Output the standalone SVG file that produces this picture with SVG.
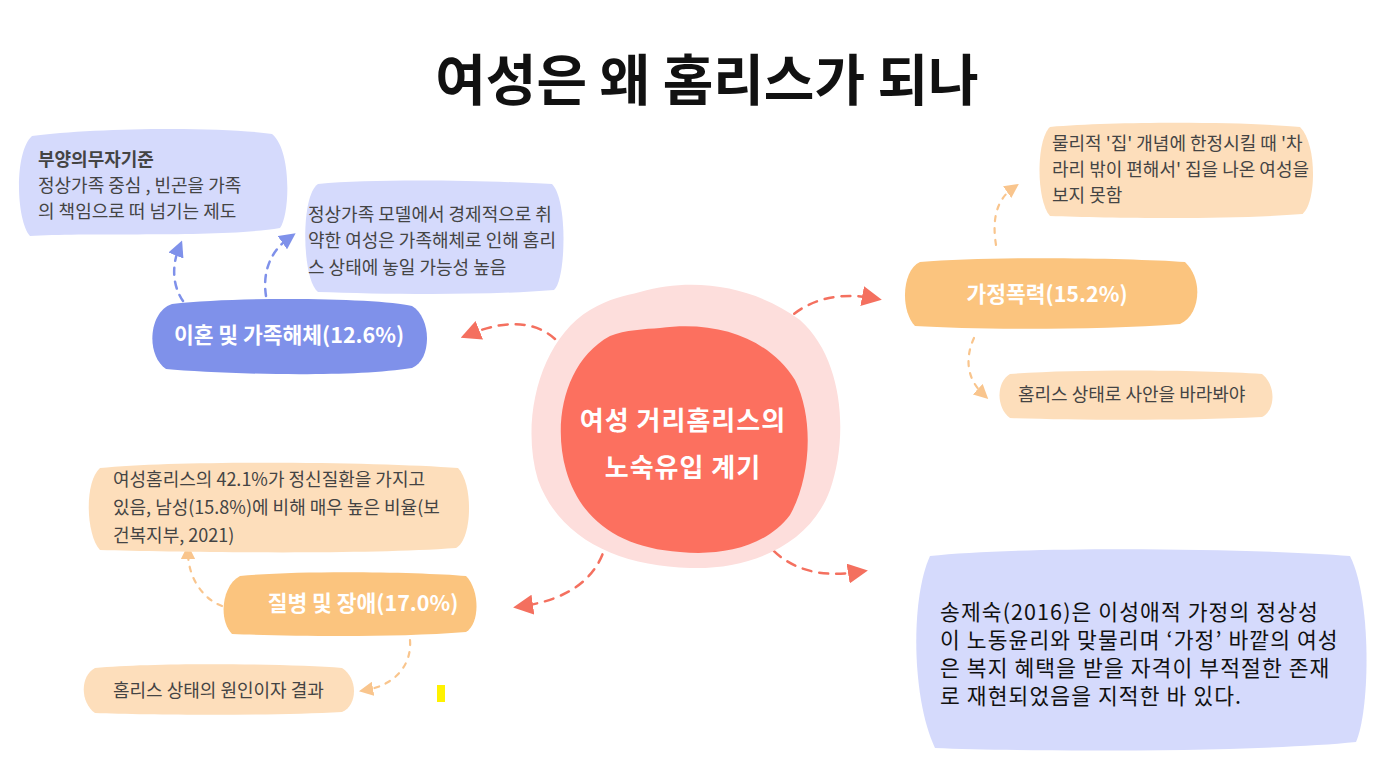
<svg xmlns="http://www.w3.org/2000/svg" width="1388" height="765" viewBox="0 0 1388 765">
<defs>
<style>
.t{font-family:"Noto Sans CJK KR","Noto Sans",sans-serif}
.title{font-size:55px;font-weight:700;fill:#111}
.body{font-size:18px;fill:#444}
.pill{font-size:21.5px;font-weight:700;fill:#fff}
.song{font-size:21.5px;letter-spacing:1.1px;fill:#111}
.lav{fill:#D5DAFC}
.peach{fill:#FDDEBB}
.or{fill:#FBC47E}
.blue{fill:#7F91EA}
.dr{fill:none;stroke:#F4705F;stroke-width:2.5;stroke-dasharray:9 8;stroke-linecap:round}
.db{fill:none;stroke:#7F91EA;stroke-width:2.5;stroke-dasharray:7 7;stroke-linecap:round}
.do{fill:none;stroke:#F9C58D;stroke-width:2.2;stroke-dasharray:5 7;stroke-linecap:round}
</style>
<marker id="ar" viewBox="0 0 10 10" refX="5" refY="5" markerWidth="8" markerHeight="8" orient="auto" markerUnits="strokeWidth"><path d="M0,0 L10,5 L0,10 Z" fill="#F4705F"/></marker>
<marker id="ab" viewBox="0 0 10 10" refX="5" refY="5" markerWidth="6.5" markerHeight="6.5" orient="auto" markerUnits="strokeWidth"><path d="M0,0 L10,5 L0,10 Z" fill="#7F91EA"/></marker>
<marker id="ao" viewBox="0 0 10 10" refX="5" refY="5" markerWidth="6.5" markerHeight="6.5" orient="auto" markerUnits="strokeWidth"><path d="M0,0 L10,5 L0,10 Z" fill="#F9C58D"/></marker>
</defs>
<rect width="1388" height="765" fill="#fff"/>
<text class="t title" x="707" y="100" text-anchor="middle">여성은 왜 홈리스가 되나</text>

<g id="connectors">
<path class="dr" d="M566 352 C545 320 510 318 470 334" marker-end="url(#ar)"/>
<path class="dr" d="M773 340 C790 305 830 290 872 298" marker-end="url(#ar)"/>
<path class="dr" d="M763 538 C785 570 820 578 858 572" marker-end="url(#ar)"/>
<path class="dr" d="M607 538 C600 580 565 600 523 606" marker-end="url(#ar)"/>
<path class="db" d="M183 301 C172 285 172 265 179 248" marker-end="url(#ab)"/>
<path class="db" d="M266 296 C262 270 272 250 289 238" marker-end="url(#ab)"/>
<path class="do" d="M996 245 C992 220 996 200 1013 188" marker-end="url(#ao)"/>
<path class="do" d="M974 338 C964 360 968 380 983 394" marker-end="url(#ao)"/>
<path class="do" d="M222 606 C205 600 188 580 188 552" marker-end="url(#ao)"/>
<path class="do" d="M410 640 C412 665 395 685 366 690" marker-end="url(#ao)"/>
</g>

<g id="node-support">
<path class="lav" d="M32 136 C90 128 220 126 272 134 C292 150 290 215 280 228 C220 238 90 232 30 236 C16 220 14 152 32 136 Z"/>
<text class="t body" x="38" y="166" font-weight="700" fill="#333">부양의무자기준</text>
<text class="t body" x="38" y="192">정상가족 중심 , 빈곤을 가족</text>
<text class="t body" x="38" y="218">의 책임으로 떠 넘기는 제도</text>
</g>

<g id="node-model">
<path class="lav" d="M318 184 C380 178 500 181 552 184 C568 200 566 280 554 290 C480 296 380 294 318 292 C302 280 300 196 318 184 Z"/>
<text class="t body" x="308" y="221">정상가족 모델에서 경제적으로 취</text>
<text class="t body" x="308" y="247">약한 여성은 가족해체로 인해 홈리</text>
<text class="t body" x="308" y="274">스 상태에 놓일 가능성 높음</text>
</g>

<g id="node-divorce">
<path class="blue" d="M172 304 C240 296 380 298 412 306 C432 318 432 360 412 368 C350 378 220 374 166 369 C146 356 148 312 172 304 Z"/>
<text class="t pill" x="289" y="343" text-anchor="middle">이혼 및 가족해체(12.6%)</text>
</g>

<g id="node-center">
<path fill="#FDDEDC" d="M640 292 C700 275 760 290 800 320 C845 360 848 440 830 490 C810 545 750 570 690 568 C620 566 560 540 538 480 C520 420 540 340 590 310 C610 298 625 296 640 292 Z"/>
<path fill="#FC705F" d="M660 328 C720 320 770 340 795 380 C815 420 810 480 790 515 C765 548 720 556 680 552 C620 548 580 520 566 470 C552 420 566 360 610 336 C625 330 645 329 660 328 Z"/>
<text class="t" x="683" y="430" text-anchor="middle" font-size="26" letter-spacing="1" font-weight="700" fill="#fff">여성 거리홈리스의</text>
<text class="t" x="683" y="477" text-anchor="middle" font-size="26" letter-spacing="1" font-weight="700" fill="#fff">노숙유입 계기</text>
</g>

<g id="node-violence">
<path class="or" d="M920 262 C990 256 1130 258 1185 262 C1204 280 1200 315 1180 324 C1100 330 980 330 915 326 C900 310 902 270 920 262 Z"/>
<text class="t pill" x="1047" y="302" text-anchor="middle">가정폭력(15.2%)</text>
</g>

<g id="node-house">
<path class="peach" d="M1050 127 C1120 121 1250 122 1300 127 C1318 145 1316 205 1302 214 C1230 220 1110 218 1050 216 C1036 200 1036 140 1050 127 Z"/>
<text class="t body" x="1052" y="150">물리적 '집' 개념에 한정시킬 때 '차</text>
<text class="t body" x="1052" y="176">라리 밖이 편해서' 집을 나온 여성을</text>
<text class="t body" x="1052" y="202">보지 못함</text>
</g>

<g id="node-view">
<path class="peach" d="M1010 374 C1080 369 1200 370 1262 374 C1276 385 1276 410 1262 417 C1180 421 1070 420 1010 418 C996 408 996 382 1010 374 Z"/>
<text class="t body" x="1018" y="401">홈리스 상태로 사안을 바라봐야</text>
</g>

<g id="node-mental">
<path class="peach" d="M100 468 C180 460 380 462 458 468 C474 485 472 540 456 548 C360 555 180 552 100 550 C86 535 84 482 100 468 Z"/>
<text class="t body" x="113" y="486">여성홈리스의 42.1%가 정신질환을 가지고</text>
<text class="t body" x="113" y="514">있음, 남성(15.8%)에 비해 매우 높은 비율(보</text>
<text class="t body" x="113" y="542">건복지부, 2021)</text>
</g>

<g id="node-illness">
<path class="or" d="M240 576 C300 570 420 572 466 576 C480 590 480 624 466 632 C390 638 290 636 232 634 C218 620 222 585 240 576 Z"/>
<text class="t pill" x="363" y="611" text-anchor="middle">질병 및 장애(17.0%)</text>
</g>

<g id="node-cause">
<path class="peach" d="M95 668 C160 662 290 664 342 668 C358 678 358 705 342 712 C270 716 150 715 95 713 C80 702 80 676 95 668 Z"/>
<text class="t body" x="113" y="697">홈리스 상태의 원인이자 결과</text>
</g>

<g id="node-song">
<path class="lav" d="M930 556 C1020 546 1250 548 1350 556 C1372 600 1370 710 1356 742 C1260 752 1030 752 935 748 C912 700 910 600 930 556 Z"/>
<text class="t song" x="940" y="620">송제숙(2016)은 이성애적 가정의 정상성</text>
<text class="t song" x="940" y="648">이 노동윤리와 맞물리며 ‘가정’ 바깥의 여성</text>
<text class="t song" x="940" y="676">은 복지 혜택을 받을 자격이 부적절한 존재</text>
<text class="t song" x="940" y="704">로 재현되었음을 지적한 바 있다.</text>
</g>

<rect x="437" y="685" width="8" height="17" fill="#FFF200"/>
</svg>
